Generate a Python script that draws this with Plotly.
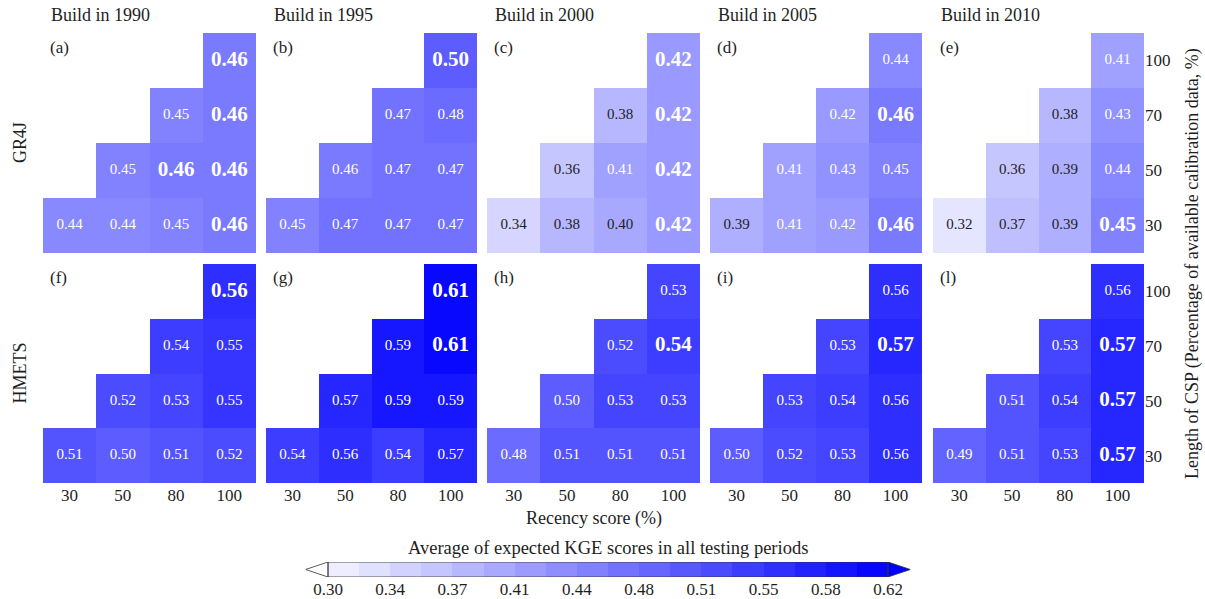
import numpy as np
import plotly.graph_objects as go

# ---- data -------------------------------------------------------------
recency = ["30", "50", "80", "100"]          # x categories (Recency score, %)
csp = ["30", "50", "70", "100"]              # y categories (Length of CSP, %)
years = ["1990", "1995", "2000", "2005", "2010"]
models = ["GR4J", "HMETS"]
letters = [["a", "b", "c", "d", "e"], ["f", "g", "h", "i", "l"]]

# rows: CSP 30, 50, 70, 100 ; columns: recency 30, 50, 80, 100
gr4j_1990 = [[0.44, 0.44, 0.45, 0.46], [None, 0.45, 0.46, 0.46], [None, None, 0.45, 0.46], [None, None, None, 0.46]]
gr4j_1995 = [[0.45, 0.47, 0.47, 0.47], [None, 0.46, 0.47, 0.47], [None, None, 0.47, 0.48], [None, None, None, 0.50]]
gr4j_2000 = [[0.34, 0.38, 0.40, 0.42], [None, 0.36, 0.41, 0.42], [None, None, 0.38, 0.42], [None, None, None, 0.42]]
gr4j_2005 = [[0.39, 0.41, 0.42, 0.46], [None, 0.41, 0.43, 0.45], [None, None, 0.42, 0.46], [None, None, None, 0.44]]
gr4j_2010 = [[0.32, 0.37, 0.39, 0.45], [None, 0.36, 0.39, 0.44], [None, None, 0.38, 0.43], [None, None, None, 0.41]]

hmets_1990 = [[0.51, 0.50, 0.51, 0.52], [None, 0.52, 0.53, 0.55], [None, None, 0.54, 0.55], [None, None, None, 0.56]]
hmets_1995 = [[0.54, 0.56, 0.54, 0.57], [None, 0.57, 0.59, 0.59], [None, None, 0.59, 0.61], [None, None, None, 0.61]]
hmets_2000 = [[0.48, 0.51, 0.51, 0.51], [None, 0.50, 0.53, 0.53], [None, None, 0.52, 0.54], [None, None, None, 0.53]]
hmets_2005 = [[0.50, 0.52, 0.53, 0.56], [None, 0.53, 0.54, 0.56], [None, None, 0.53, 0.57], [None, None, None, 0.56]]
hmets_2010 = [[0.49, 0.51, 0.53, 0.57], [None, 0.51, 0.54, 0.57], [None, None, 0.53, 0.57], [None, None, None, 0.56]]

grids = [
    [gr4j_1990, gr4j_1995, gr4j_2000, gr4j_2005, gr4j_2010],
    [hmets_1990, hmets_1995, hmets_2000, hmets_2005, hmets_2010],
]

zmin, zmax = 0.30, 0.62
n_blocks = 18
n_ticks = 10

# ---- styling ------------------------------------------------------------
FONT = "Liberation Serif"
INK = "#1e1e1e"
W, H = 1205, 599
colorscale = [[0.0, "rgb(244,244,255)"], [1.0, "rgb(0,0,255)"]]
text_threshold = 0.405

col_left = [43, 266, 487, 710, 933]
col_right = [256, 477, 700, 922, 1144]
row_top = [33, 264]
row_bot = [253, 483]


def px_x(v):
    return v / W


def px_y(v):
    return 1 - v / H


fig = go.Figure()
layout = {}
annotations = []

for r in range(2):
    for c in range(5):
        k = r * 5 + c + 1
        xa = "x" if k == 1 else f"x{k}"
        ya = "y" if k == 1 else f"y{k}"
        z = grids[r][c]
        fig.add_trace(go.Heatmap(
            x=recency, y=csp, z=z, xaxis=xa, yaxis=ya,
            colorscale=colorscale, zmin=zmin, zmax=zmax,
            showscale=False, hoverongaps=False,
        ))
        vals = [v for row in z for v in row if v is not None]
        vmax = max(vals)
        tx, ty, tt, ts, tc = [], [], [], [], []
        for i, row in enumerate(z):
            for j, v in enumerate(row):
                if v is None:
                    continue
                tx.append(recency[j])
                ty.append(csp[i])
                if abs(v - vmax) < 1e-9:
                    tt.append(f"<b>{v:.2f}</b>")
                    ts.append(21)
                else:
                    tt.append(f"{v:.2f}")
                    ts.append(15)
                tc.append("white" if v >= text_threshold else INK)
        fig.add_trace(go.Scatter(
            x=tx, y=ty, text=tt, mode="text", xaxis=xa, yaxis=ya,
            textfont=dict(family=FONT, size=ts, color=tc),
            showlegend=False, hoverinfo="skip",
        ))
        xkey = "xaxis" if k == 1 else f"xaxis{k}"
        ykey = "yaxis" if k == 1 else f"yaxis{k}"
        layout[xkey] = dict(
            domain=[px_x(col_left[c]), px_x(col_right[c])],
            anchor=ya, type="category", categoryorder="array", categoryarray=recency,
            showgrid=False, zeroline=False, showline=False, ticks="",
            showticklabels=(r == 1),
            tickfont=dict(family=FONT, size=17, color=INK),
            fixedrange=True,
        )
        layout[ykey] = dict(
            domain=[px_y(row_bot[r]), px_y(row_top[r])],
            anchor=xa, type="category", categoryorder="array", categoryarray=csp,
            showgrid=False, zeroline=False, showline=False, ticks="",
            side="right", showticklabels=(c == 4),
            tickfont=dict(family=FONT, size=17, color=INK),
            fixedrange=True,
        )
        # panel letter
        annotations.append(dict(
            text=f"({letters[r][c]})", x=px_x(col_left[c] + 5), y=px_y(row_top[r] + 14),
            xref="paper", yref="paper", xanchor="left", yanchor="middle",
            showarrow=False, font=dict(family=FONT, size=17, color=INK),
        ))

# column titles
for c, yr in enumerate(years):
    annotations.append(dict(
        text=f"Build in {yr}", x=px_x(col_left[c] + 6), y=px_y(15),
        xref="paper", yref="paper", xanchor="left", yanchor="middle",
        showarrow=False, font=dict(family=FONT, size=18, color=INK),
    ))

# row (model) labels
for r, m in enumerate(models):
    annotations.append(dict(
        text=m, x=px_x(20), y=px_y((row_top[r] + row_bot[r]) / 2),
        xref="paper", yref="paper", xanchor="center", yanchor="middle",
        textangle=-90, showarrow=False, font=dict(family=FONT, size=18, color=INK),
    ))

# shared axis titles
annotations.append(dict(
    text="Recency score (%)", x=px_x(594), y=px_y(518),
    xref="paper", yref="paper", xanchor="center", yanchor="middle",
    showarrow=False, font=dict(family=FONT, size=18, color=INK),
))
annotations.append(dict(
    text="Length of CSP (Percentage of available calibration data, %)",
    x=px_x(1192), y=px_y(264), xref="paper", yref="paper",
    xanchor="center", yanchor="middle", textangle=-90,
    showarrow=False, font=dict(family=FONT, size=18, color=INK),
))

# ---- horizontal colour bar with extension triangles --------------------
edges = np.linspace(zmin, zmax, n_blocks + 1)
centers = (edges[:-1] + edges[1:]) / 2
ext = (zmax - zmin) * 0.04
cb_x0, cb_x1 = 328, 888
cb_top, cb_bot = 562, 577
span_px = cb_x1 - cb_x0
ext_px = ext / (zmax - zmin) * span_px

fig.add_trace(go.Heatmap(
    x=centers, y=[0], z=[list(centers)], xaxis="x11", yaxis="y11",
    colorscale=colorscale, zmin=zmin, zmax=zmax, showscale=False, hoverinfo="skip",
))
fig.add_trace(go.Scatter(
    x=[zmin, zmin - ext, zmin, zmin], y=[-0.5, 0, 0.5, -0.5], xaxis="x11", yaxis="y11",
    mode="lines", fill="toself", fillcolor="white", line=dict(color="#333", width=0.8),
    showlegend=False, hoverinfo="skip",
))
fig.add_trace(go.Scatter(
    x=[zmax, zmax + ext, zmax, zmax], y=[-0.5, 0, 0.5, -0.5], xaxis="x11", yaxis="y11",
    mode="lines", fill="toself", fillcolor="rgb(0,0,255)", line=dict(color="#333", width=0.8),
    showlegend=False, hoverinfo="skip",
))
fig.add_trace(go.Scatter(
    x=[zmin, zmax, zmax, zmin, zmin], y=[-0.5, -0.5, 0.5, 0.5, -0.5], xaxis="x11", yaxis="y11",
    mode="lines", line=dict(color="#333", width=0.8),
    showlegend=False, hoverinfo="skip",
))

ticks = np.linspace(zmin, zmax, n_ticks)
layout["xaxis11"] = dict(
    domain=[px_x(cb_x0 - ext_px), px_x(cb_x1 + ext_px)], anchor="y11",
    range=[zmin - ext, zmax + ext], showgrid=False, zeroline=False, showline=False,
    ticks="", tickvals=list(ticks), ticktext=[f"{t:.2f}" for t in ticks],
    tickfont=dict(family=FONT, size=17, color=INK), fixedrange=True,
)
layout["yaxis11"] = dict(
    domain=[px_y(cb_bot), px_y(cb_top)], anchor="x11", range=[-0.5, 0.5],
    showgrid=False, zeroline=False, showline=False, showticklabels=False, fixedrange=True,
)
annotations.append(dict(
    text="Average of expected KGE scores in all testing periods",
    x=px_x((cb_x0 + cb_x1) / 2), y=px_y(548), xref="paper", yref="paper",
    xanchor="center", yanchor="middle", showarrow=False,
    font=dict(family=FONT, size=18.5, color=INK),
))

fig.update_layout(
    width=W, height=H, margin=dict(l=0, r=0, t=0, b=0),
    paper_bgcolor="white", plot_bgcolor="white",
    font=dict(family=FONT),
    showlegend=False, annotations=annotations, **layout,
)

fig.write_html("out.html", include_plotlyjs=True, config={"displayModeBar": False})
